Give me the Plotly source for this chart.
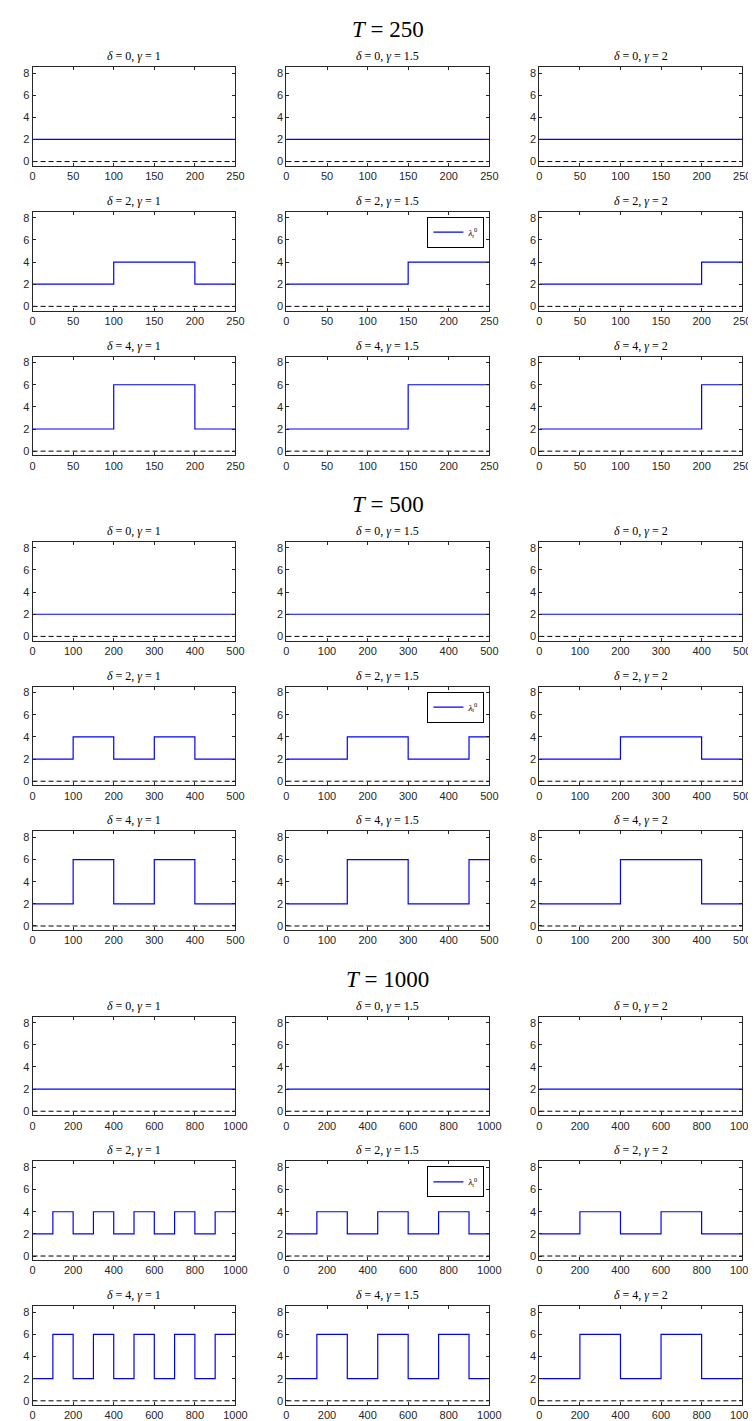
import plotly.graph_objects as go

# ---------------- data ----------------
T_VALUES = [250, 500, 1000]
DELTAS = [0, 2, 4]
GAMMAS = [1, 1.5, 2]
LOW_LEVEL = 2
HIGH_LEVELS = [2, 4, 6]          # level after an upward switch, for delta = 0, 2, 4
ZERO_LINE = [0, 0]

SWITCH_T250 = {1: [100, 200], 1.5: [150], 2: [200]}
SWITCH_T500 = {1: [100, 200, 300, 400], 1.5: [150, 300, 450], 2: [200, 400]}
SWITCH_T1000 = {1: [100, 200, 300, 400, 500, 600, 700, 800, 900],
                1.5: [150, 300, 450, 600, 750, 900],
                2: [200, 400, 600, 800]}
SWITCHES = [SWITCH_T250, SWITCH_T500, SWITCH_T1000]

XTICKS_250 = [0, 50, 100, 150, 200, 250]
XTICKS_500 = [0, 100, 200, 300, 400, 500]
XTICKS_1000 = [0, 200, 400, 600, 800, 1000]
XTICKS = [XTICKS_250, XTICKS_500, XTICKS_1000]
YTICKS = [0, 2, 4, 6, 8]

# ---------------- layout geometry (pixels) ----------------
W, H = 756, 1421
COL_LEFT = [22, 281, 539]
PANEL_W = 207
PANEL_H = 99
ROW_TOP0 = 59
ROW_STEP = 145
BLOCK_STEP = 475.5

AX_COLOR = "#262626"
fig = go.Figure()
annotations = []
layout_axes = {}

k = 0
for b, T in enumerate(T_VALUES):
    block_top = ROW_TOP0 + BLOCK_STEP * b
    annotations.append(dict(
        x=(COL_LEFT[1] + PANEL_W / 2) / W, y=1 - (block_top - 37) / H,
        xref="paper", yref="paper", xanchor="center", yanchor="middle",
        text=f"<i>T</i> = {T}", showarrow=False,
        font=dict(family="Liberation Serif", size=23, color="black")))
    for r, delta in enumerate(DELTAS):
        top = block_top + ROW_STEP * r
        bottom = top + PANEL_H
        for c, gamma in enumerate(GAMMAS):
            k += 1
            xa = "x" if k == 1 else f"x{k}"
            ya = "y" if k == 1 else f"y{k}"
            left = COL_LEFT[c]
            sw = SWITCHES[b][gamma] if delta != 0 else []
            xs = [0] + sw + [T]
            ys = []
            for i in range(len(sw) + 1):
                ys.append(LOW_LEVEL if i % 2 == 0 else HIGH_LEVELS[r])
            ys.append(ys[-1])
            show_leg = (r == 1 and c == 1)
            leg_name = "legend" if b == 0 else f"legend{b + 1}"
            fig.add_trace(go.Scatter(
                x=xs, y=ys, mode="lines", line=dict(color="#0000FF", width=1.2, shape="hv"),
                name="<i>λ</i><sub>t</sub><sup>0</sup>",
                showlegend=show_leg, legend=leg_name, xaxis=xa, yaxis=ya, hoverinfo="skip"))
            fig.add_trace(go.Scatter(
                x=[0, T], y=ZERO_LINE, mode="lines",
                line=dict(color="black", width=1, dash="5px,3px"),
                showlegend=False, xaxis=xa, yaxis=ya, hoverinfo="skip"))
            axname = "xaxis" if k == 1 else f"xaxis{k}"
            ayname = "yaxis" if k == 1 else f"yaxis{k}"
            layout_axes[axname] = dict(
                domain=[left / W, (left + PANEL_W) / W], anchor=ya,
                range=[0, T], tickvals=XTICKS[b], ticks="inside", ticklen=3,
                tickcolor=AX_COLOR, showline=True, linecolor=AX_COLOR, linewidth=1,
                mirror="ticks", showgrid=False, zeroline=False,
                tickfont=dict(family="Liberation Sans", size=11, color=AX_COLOR))
            layout_axes[ayname] = dict(
                domain=[1 - bottom / H, 1 - top / H], anchor=xa,
                range=[-0.38, 8.55], tickvals=YTICKS, ticks="inside", ticklen=3,
                tickcolor=AX_COLOR, showline=True, linecolor=AX_COLOR, linewidth=1,
                mirror="ticks", showgrid=False, zeroline=False,
                tickfont=dict(family="Liberation Sans", size=11, color=AX_COLOR))
            annotations.append(dict(
                x=(left + PANEL_W / 2) / W, y=1 - (top - 11) / H,
                xref="paper", yref="paper", xanchor="center", yanchor="middle",
                text=f"<i>δ</i> = {delta}, <i>γ</i> = {gamma}", showarrow=False,
                font=dict(family="Liberation Serif", size=12, color="black")))
            if show_leg:
                layout_axes[leg_name] = dict(
                    x=(left + PANEL_W - 5) / W, y=1 - (top + 5) / H,
                    xanchor="right", yanchor="top", xref="paper", yref="paper",
                    bgcolor="white", bordercolor="black", borderwidth=1,
                    font=dict(family="Liberation Serif", size=9, color="black"),
                    itemwidth=30, tracegroupgap=0)

fig.update_layout(
    width=W, height=H, margin=dict(l=0, r=0, t=0, b=0),
    paper_bgcolor="white", plot_bgcolor="white",
    annotations=annotations, **layout_axes)

fig.write_html("out.html")
